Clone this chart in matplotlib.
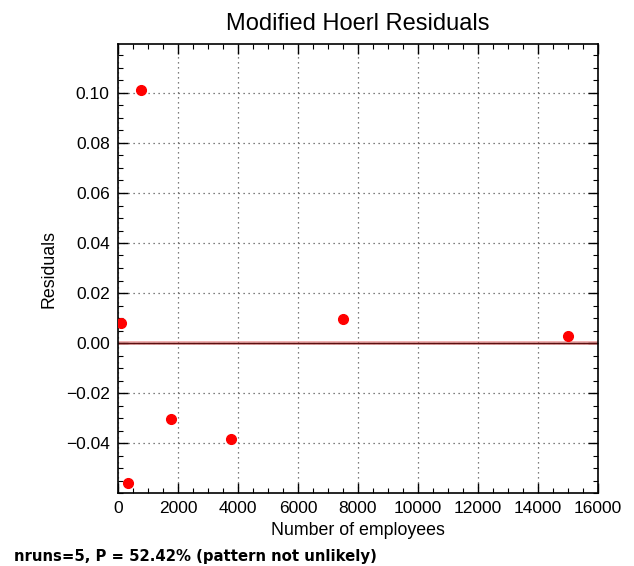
import matplotlib
matplotlib.use("Agg")
import matplotlib.pyplot as plt
from matplotlib.ticker import MultipleLocator

employees = [90, 345, 757, 1767, 3757, 7500, 15000]
residuals = [0.0081, -0.0561, 0.1011, -0.0305, -0.0385, 0.0096, 0.0029]
title = "Modified Hoerl Residuals"
xlabel = "Number of employees"
ylabel = "Residuals"
footer = "nruns=5, P = 52.42% (pattern not unlikely)"

plt.rcParams['font.family'] = ['Liberation Sans', 'DejaVu Sans']
fig = plt.figure(figsize=(6.34, 5.66), dpi=100)
ax = fig.add_axes([118/634, 1-493/566, 480/634, 449/566])

ax.axhline(0, color='#e06060', lw=2.8, alpha=0.5, zorder=2)
ax.axhline(0, color='#5a1010', lw=1.0, zorder=2)
ax.plot(employees, residuals, 'o', color='red', markersize=7, markeredgecolor='red', zorder=3)

ax.set_xlim(0, 16000)
ax.set_ylim(-0.06, 0.1196)
ax.xaxis.set_major_locator(MultipleLocator(2000))
ax.xaxis.set_minor_locator(MultipleLocator(500))
ax.yaxis.set_major_locator(MultipleLocator(0.02))
ax.yaxis.set_minor_locator(MultipleLocator(0.005))
ax.set_yticks([-0.04, -0.02, 0.0, 0.02, 0.04, 0.06, 0.08, 0.10])
ax.set_yticklabels(['\u22120.04', '\u22120.02', '0.00', '0.02', '0.04', '0.06', '0.08', '0.10'])
ax.tick_params(which='both', direction='in', top=True, right=True, labelsize=12.5, pad=6)
ax.tick_params(which='major', length=7, width=1)
ax.tick_params(which='minor', length=3.5, width=0.8)
for s in ax.spines.values():
    s.set_linewidth(1.2)
ax.grid(True, which='major', linestyle=(0, (1, 3)), color='#555555', linewidth=0.9)

ax.set_title(title, fontsize=17, pad=10)
ax.set_xlabel(xlabel, fontsize=12.75, labelpad=4)
ax.set_ylabel(ylabel, fontsize=12.75, labelpad=6)

fig.text(14/634, 1-557/566, footer, fontsize=10.7, fontweight='bold', family='DejaVu Sans', va='center')

fig.savefig("out.png", dpi=100)
